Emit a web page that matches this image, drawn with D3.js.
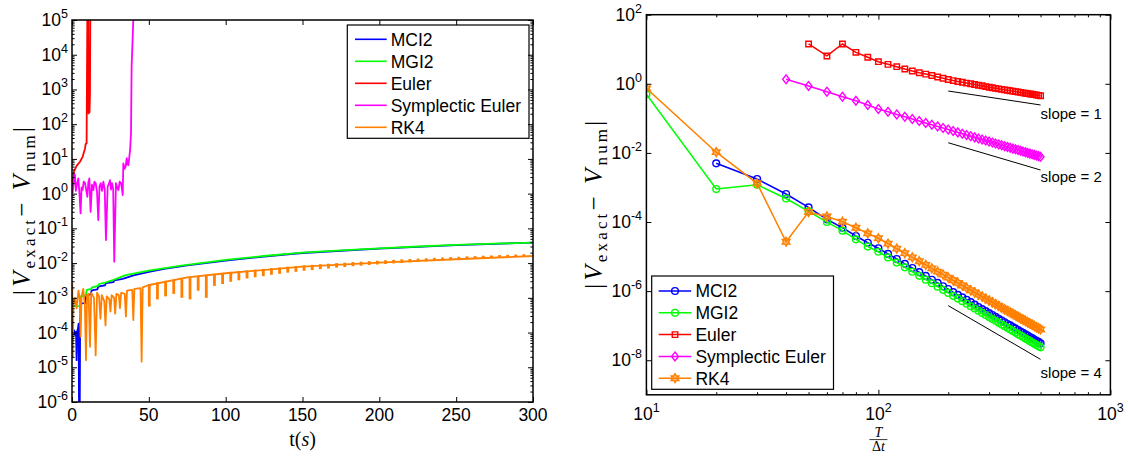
<!DOCTYPE html>
<html>
<head>
<meta charset="utf-8">
<title>Error comparison of integrators</title>
<script src="https://cdn.jsdelivr.net/npm/d3@7"></script>
<style>
  html, body { margin: 0; padding: 0; background: #fff; }
  svg { display: block; }
</style>
</head>
<body>
<svg id="fig" width="1128" height="457"></svg>
<script>
// ---------------- series ----------------
const methods = ["MCI2", "MGI2", "Euler", "Symplectic Euler", "RK4"];
const methodColors = ["#0000ff", "#00ff00", "#ff0000", "#ff00ff", "#ff8000"];
const methodMarkers = ["circle", "circle", "square", "diamond", "hexagram"];

// ---------------- left panel: error history |V_exact - V_num| over t ----------------
const timeTicks = [0, 50, 100, 150, 200, 250, 300];
const errTicksTime = [1e-6, 1e-5, 1e-4, 1e-3, 1e-2, 1e-1, 1e0, 1e1, 1e2, 1e3, 1e4, 1e5];

// [t, error]
const mci2Time = [[0.3,1.05e-4],[0.9,9.0e-5],[1.4,1.15e-4],[2.0,8.5e-5],[2.6,1.05e-4],[3.0,1.6e-5],[3.4,1.1e-4],
  [3.9,1.3e-4],[4.3,1.8e-4],[4.6,3e-7],[5.0,3e-7],[5.3,2.0e-4],[5.7,6.9e-4],[8.6,7.0e-4],[9.1,1.2e-3],
  [12.2,1.25e-3],[12.8,1.65e-3],[16.5,1.75e-3],[17.1,2.1e-3],[21.5,2.3e-3],[22.1,2.65e-3],[27,2.85e-3],
  [27.6,3.2e-3],[33,3.5e-3],[40,4.4e-3],[50,5.6e-3],[60,6.8e-3],[75,8.6e-3],[100,1.18e-2],[125,1.55e-2],
  [150,1.95e-2],[200,2.62e-2],[250,3.28e-2],[300,3.9e-2]];
const mgi2Time = [[0.3,5.8e-4],[5.2,5.9e-4],[5.7,1.1e-3],[9.0,1.15e-3],[9.6,1.7e-3],[12.5,1.8e-3],[13.0,2.0e-3],
  [17,2.2e-3],[17.5,2.5e-3],[22,2.8e-3],[27,3.3e-3],[35,4.5e-3],[50,6.05e-3],[70,8.3e-3],[100,1.23e-2],
  [125,1.6e-2],[150,2.0e-2],[175,2.33e-2],[200,2.67e-2],[225,3.0e-2],[250,3.33e-2],[275,3.62e-2],[300,3.9e-2]];
const eulerTime = [[0,1.6],[1.3,4.3],[3.0,6.3],[5.2,8.3],[6.9,11.5],[8.5,20],[8.9,27],[9.5,28],[9.6,205],
  [10.1,1e6],[10.5,1e6],[10.8,205],[11.1,780],[11.4,220],[11.7,780],[12.0,1e6]];
const symplecticTime = [[0.4,1.02],[1.2,2.6],[1.9,3.5],[2.5,1.2],[3.0,1.6],[4.1,2.75],[4.8,1.1],[5.6,0.27],
  [6.2,1.5],[6.9,1.27],[7.6,2.2],[8.5,2.0],[9.2,1.3],[10,0.81],[10.6,2.1],[11.3,2.75],[12.1,0.30],[13.0,1.8],
  [13.9,1.27],[14.6,2.2],[15.4,2.0],[16.3,1.1],[17.1,0.174],[17.9,1.6],[18.7,2.0],[19.5,1.2],[20.4,2.2],
  [21.3,1.3],[22.1,0.046],[23.2,1.58],[24.0,1.9],[24.7,2.45],[25.4,1.3],[26,2.0],[26.8,1.4],[27.5,0.011],
  [28.6,2.0],[29.4,1.5],[30.2,1.27],[31.0,2.2],[31.9,2.0],[32.5,1.4],[33,0.91],[33.4,7.4],[34.2,5.2],[34.9,6.0],
  [35.6,10.5],[36.2,7.0],[36.7,6.6],[37.8,18],[38.4,55],[38.8,4570],[39.9,1e5],[40.3,1e7]];
const rk4Time = [[0.2,2.6e-3],[0.5,2.0e-5],[0.9,6.0e-4],[2.0,1.0e-3],[3.0,5.0e-4],[4.2,1.6e-3],[5.0,1.0e-3],
  [5.6,7.6e-5],[6.2,1.1e-3],[7.3,1.8e-3],[8.4,6.0e-4],[9.1,1.6e-5],[9.8,1.2e-3],[10.8,1.3e-3],[11.7,3.9e-5],
  [12.5,1.4e-3],[14.3,1.0e-3],[15.4,2.2e-5],[16.3,1.4e-3],[17.6,1.1e-3],[18.5,2.5e-4],[19.4,1.2e-3],
  [21.0,8e-4],[21.8,1.6e-4],[22.6,1.1e-3],[24.3,9e-4],[25.0,4e-4],[25.8,1.2e-3],[27.4,1.0e-3],[28.1,3.5e-4],
  [28.9,1.3e-3],[30.5,1.2e-3],[31.2,5e-4],[32.0,1.4e-3],[34.3,1.3e-3],[35.1,2.9e-4],[35.8,1.6e-3],
  [39.2,1.7e-3],[39.9,2.3e-4],[40.6,1.8e-3],[44.6,1.9e-3],[45.3,1.45e-5],[46.0,2.0e-3],[49.6,2.3e-3],
  [75,3.9e-3],[100,5.1e-3],[150,7.9e-3],[200,1.03e-2],[250,1.29e-2],[300,1.6e-2]];
// short oscillation bursts of RK4: [t, lowest error, highest error]
const rk4Bursts = [[50.3,5.6e-4,2.5e-3],[55.6,9e-4,2.8e-3],[60.9,1.1e-3,3.1e-3],[66.2,1.3e-3,3.4e-3],
  [71.5,1.0e-3,3.7e-3],[76.8,9e-4,4.0e-3],[82.1,1.6e-3,4.3e-3],[87.4,1.0e-3,4.6e-3],[92.7,2.2e-3,4.9e-3],
  [98.0,2.5e-3,5.2e-3],[103.3,2.9e-3,5.6e-3],[108.6,3.2e-3,5.9e-3],[113.9,3.6e-3,6.2e-3],[119.2,3.9e-3,6.5e-3],
  [124.5,4.2e-3,6.8e-3],[129.8,4.6e-3,7.2e-3],[135.1,4.9e-3,7.5e-3],[140.4,5.3e-3,7.9e-3],[145.7,5.6e-3,8.2e-3],
  [151.0,6.0e-3,8.6e-3],[156.3,6.3e-3,8.9e-3],[161.6,6.7e-3,9.3e-3],[166.9,7.0e-3,9.6e-3],[172.2,7.4e-3,1.0e-2],
  [177.5,7.7e-3,1.03e-2],[182.8,8.1e-3,1.07e-2],[188.1,8.4e-3,1.1e-2],[193.4,8.8e-3,1.14e-2],[198.7,9.1e-3,1.17e-2],
  [204.0,9.4e-3,1.21e-2],[209.3,9.8e-3,1.24e-2],[214.6,1.01e-2,1.28e-2],[219.9,1.05e-2,1.31e-2],[225.2,1.08e-2,1.35e-2],
  [230.5,1.12e-2,1.38e-2],[235.8,1.15e-2,1.42e-2],[241.1,1.19e-2,1.45e-2],[246.4,1.22e-2,1.49e-2],[251.7,1.26e-2,1.52e-2],
  [257.0,1.29e-2,1.56e-2],[262.3,1.33e-2,1.59e-2],[267.6,1.36e-2,1.63e-2],[272.9,1.40e-2,1.66e-2],[278.2,1.43e-2,1.70e-2],
  [283.5,1.47e-2,1.73e-2],[288.8,1.50e-2,1.77e-2],[294.1,1.54e-2,1.80e-2]];

// ---------------- right panel: convergence vs T/Δt ----------------
const ratioTicks = [10, 100, 1000];
const errTicksConv = [1e2, 1e0, 1e-2, 1e-4, 1e-6, 1e-8];
const stepRatio = [10,20,30,40,50,60,70,80,90,100,110,120,130,140,150,160,170,180,190,200,
  210,220,230,240,250,260,270,280,290,300,310,320,330,340,350,360,370,380,390,400,
  410,420,430,440,450,460,470,480,490,500];
const mci2Conv = [null,5.0e-3,1.76e-3,6.46e-4,2.66e-4,1.20e-4,6.84e-5,3.94e-5,2.51e-5,1.74e-5,
  1.20e-5,8.51e-6,6.17e-6,4.68e-6,3.55e-6,2.75e-6,2.14e-6,1.74e-6,1.38e-6,1.15e-6,
  9.33e-7,7.76e-7,6.61e-7,5.62e-7,4.79e-7,4.07e-7,3.47e-7,3.02e-7,2.63e-7,2.32e-7,
  2.04e-7,1.80e-7,1.58e-7,1.41e-7,1.26e-7,1.12e-7,1.02e-7,9.12e-8,8.32e-8,7.41e-8,
  6.76e-8,6.17e-8,5.62e-8,5.13e-8,4.68e-8,4.37e-8,3.98e-8,3.63e-8,3.39e-8,3.09e-8];
const mgi2Conv = [0.50,9.0e-4,1.20e-3,4.79e-4,2.04e-4,1.0e-4,5.62e-5,3.16e-5,1.95e-5,1.38e-5,
  9.46e-6,6.70e-6,4.89e-6,3.64e-6,2.77e-6,2.15e-6,1.69e-6,1.35e-6,1.09e-6,8.87e-7,
  7.31e-7,6.08e-7,5.11e-7,4.31e-7,3.66e-7,3.14e-7,2.70e-7,2.34e-7,2.04e-7,1.78e-7,
  1.56e-7,1.38e-7,1.22e-7,1.08e-7,9.66e-8,8.65e-8,7.76e-8,6.98e-8,6.30e-8,5.70e-8,
  5.16e-8,4.70e-8,4.28e-8,3.91e-8,3.57e-8,3.27e-8,3.01e-8,2.77e-8,2.55e-8,2.36e-8];
const eulerConv = [null,null,null,null,14.2,6.4,14.2,8.15,5.85,4.37,
  3.66,3.13,2.68,2.35,2.09,1.91,1.74,1.58,1.45,1.33,
  1.24,1.17,1.11,1.05,1.00,0.955,0.912,0.875,0.832,0.794,
  0.766,0.740,0.716,0.692,0.670,0.650,0.631,0.612,0.596,0.579,
  0.564,0.548,0.535,0.521,0.508,0.497,0.485,0.474,0.463,0.453];
const symplecticConv = [null,null,null,1.35,0.863,0.592,0.424,0.324,0.243,0.187,
  0.155,0.130,0.111,9.6e-2,8.38e-2,7.38e-2,6.55e-2,5.84e-2,5.25e-2,4.74e-2,
  4.31e-2,3.93e-2,3.60e-2,3.31e-2,3.05e-2,2.82e-2,2.62e-2,2.44e-2,2.28e-2,2.13e-2,
  2.00e-2,1.87e-2,1.76e-2,1.66e-2,1.57e-2,1.49e-2,1.41e-2,1.33e-2,1.27e-2,1.21e-2,
  1.15e-2,1.10e-2,1.05e-2,9.98e-3,9.55e-3,9.14e-3,8.77e-3,8.41e-3,8.07e-3,7.76e-3];
const rk4Conv = [0.74,1.05e-2,1.32e-3,2.69e-5,1.95e-4,1.45e-4,1.02e-4,6.84e-5,4.68e-5,3.39e-5,
  2.37e-5,1.70e-5,1.26e-5,9.51e-6,7.33e-6,5.74e-6,4.57e-6,3.68e-6,3.00e-6,2.47e-6,
  2.06e-6,1.73e-6,1.46e-6,1.24e-6,1.06e-6,9.18e-7,7.96e-7,6.93e-7,6.07e-7,5.35e-7,
  4.72e-7,4.19e-7,3.73e-7,3.33e-7,2.99e-7,2.69e-7,2.42e-7,2.19e-7,1.98e-7,1.80e-7,
  1.64e-7,1.50e-7,1.37e-7,1.26e-7,1.16e-7,1.06e-7,9.79e-8,9.06e-8,8.38e-8,7.76e-8];

// reference slopes: two end points [ratio, error] and a label anchor
const slopeGuides = [
  {label: "slope = 1", from: [200, 0.619], to: [500, 0.244], at: [500, 9.5e-2]},
  {label: "slope = 2", from: [200, 1.97e-2], to: [500, 3.2e-3], at: [500, 1.48e-3]},
  {label: "slope = 4", from: [200, 3.8e-7], to: [500, 1.06e-8], at: [500, 3.0e-9]}
];

// ---------------- drawing ----------------
const SANS = "'Liberation Sans', Arial, Helvetica, sans-serif";
const SERIF = "'Liberation Serif', 'Times New Roman', serif";
const svg = d3.select("#fig");
const defs = svg.append("defs");

const boxL = {x0: 72, x1: 533, y0: 20, y1: 402};
const boxR = {x0: 646.4, x1: 1110.4, y0: 14.7, y1: 394.8};

const xL = d3.scaleLinear().domain([0, 300]).range([boxL.x0, boxL.x1]);
const yL = d3.scaleLog().domain([1e-6, 1e5]).range([boxL.y1, boxL.y0]);
const xR = d3.scaleLog().domain([10, 1000]).range([boxR.x0, boxR.x1]);
const yR = d3.scaleLog().domain([1e-9, 1e2]).range([boxR.y1, boxR.y0]);

function clip(id, b) {
  defs.append("clipPath").attr("id", id).append("rect")
    .attr("x", b.x0).attr("y", b.y0).attr("width", b.x1 - b.x0).attr("height", b.y1 - b.y0);
}
clip("clipL", boxL);
clip("clipR", boxR);

function minorLogTicks(domain) {
  const out = [];
  const lo = Math.round(Math.log10(domain[0])), hi = Math.round(Math.log10(domain[1]));
  for (let e = lo; e < hi; e++) for (let m = 2; m <= 9; m++) out.push(m * Math.pow(10, e));
  return out;
}

// inward ticks on all four sides, MATLAB style
function drawTicks(b, x, y, xMajor, xMinor, yMajor, yMinor, majorLen, minorLen) {
  const g = svg.append("g").attr("class", "ticks");
  const put = (axis, tx, ty) => {
    const a = g.append("g").attr("transform", `translate(${tx},${ty})`).call(axis);
    a.select(".domain").remove();
    a.selectAll("line").attr("stroke", "#000").attr("stroke-width", 1);
  };
  [[xMajor, majorLen], [xMinor, minorLen]].forEach(([vals, len]) => {
    if (!vals.length) return;
    put(d3.axisBottom(x).tickValues(vals).tickSizeInner(-len).tickSizeOuter(0).tickFormat(""), 0, b.y1);
    put(d3.axisTop(x).tickValues(vals).tickSizeInner(-len).tickSizeOuter(0).tickFormat(""), 0, b.y0);
  });
  [[yMajor, majorLen], [yMinor, minorLen]].forEach(([vals, len]) => {
    if (!vals.length) return;
    put(d3.axisLeft(y).tickValues(vals).tickSizeInner(-len).tickSizeOuter(0).tickFormat(""), b.x0, 0);
    put(d3.axisRight(y).tickValues(vals).tickSizeInner(-len).tickSizeOuter(0).tickFormat(""), b.x1, 0);
  });
}

function frame(b) {
  svg.append("rect").attr("x", b.x0).attr("y", b.y0)
    .attr("width", b.x1 - b.x0).attr("height", b.y1 - b.y0)
    .attr("fill", "none").attr("stroke", "#000").attr("stroke-width", 1.5);
}

// "10" with a raised exponent
function powText(parent, v, x, y, anchor) {
  const e = Math.round(Math.log10(v));
  const t = parent.append("text").attr("x", x).attr("y", y)
    .attr("text-anchor", anchor).attr("font-family", SANS).attr("font-size", 17.5).attr("fill", "#000");
  t.append("tspan").text("10");
  t.append("tspan").attr("dy", -8).attr("font-size", 12.5).text(e < 0 ? "-" + (-e) : String(e));
  return t;
}

// ---- left panel ----
const gL = svg.append("g");
const lineL = d3.line().x(d => xL(d[0])).y(d => yL(d[1]));
const plotL = gL.append("g").attr("clip-path", "url(#clipL)");
const timeSeries = [mci2Time, mgi2Time, eulerTime, symplecticTime, rk4Time];
timeSeries.forEach((s, i) => {
  plotL.append("path").attr("d", lineL(s)).attr("fill", "none")
    .attr("stroke", methodColors[i]).attr("stroke-width", 1.8).attr("stroke-linejoin", "round");
});
plotL.selectAll("line.burst").data(rk4Bursts).join("line").attr("class", "burst")
  .attr("x1", d => xL(d[0])).attr("x2", d => xL(d[0]))
  .attr("y1", d => yL(d[1])).attr("y2", d => yL(d[2]))
  .attr("stroke", methodColors[4]).attr("stroke-width", 2.8);

drawTicks(boxL, xL, yL, timeTicks, [], errTicksTime, minorLogTicks([1e-6, 1e5]), 5, 2.6);
frame(boxL);

timeTicks.forEach(v => {
  gL.append("text").attr("x", xL(v)).attr("y", 421).attr("text-anchor", "middle")
    .attr("font-family", SANS).attr("font-size", 17.5).text(v);
});
errTicksTime.forEach(v => powText(gL, v, 68, yL(v) + 6, "end"));

// axis titles
gL.append("text").attr("x", xL(150)).attr("y", 446).attr("text-anchor", "middle")
  .attr("font-family", SERIF).attr("font-size", 20)
  .call(t => { t.append("tspan").text("t("); t.append("tspan").attr("font-style", "italic").text("s"); t.append("tspan").text(")"); });

function errLabel(x, y) {
  const t = svg.append("text").attr("transform", `translate(${x},${y}) rotate(-90)`)
    .attr("text-anchor", "middle").attr("font-family", SERIF).attr("font-size", 25)
    .attr("textLength", 168).attr("lengthAdjust", "spacing");
  t.append("tspan").text("|");
  t.append("tspan").attr("font-style", "italic").text("V");
  t.append("tspan").attr("font-size", 17).attr("dy", 5).text("exact");
  t.append("tspan").attr("dy", -5).text("\u2212 ");
  t.append("tspan").attr("font-style", "italic").text("V");
  t.append("tspan").attr("font-size", 17).attr("dy", 5).text("num");
  t.append("tspan").attr("dy", -5).text("|");
}
errLabel(30, (boxL.y0 + boxL.y1) / 2);

// legend (lines only)
const legL = gL.append("g");
legL.append("rect").attr("x", 347.3).attr("y", 25).attr("width", 181.7).attr("height", 113.3)
  .attr("fill", "#fff").attr("stroke", "#000").attr("stroke-width", 1.2);
methods.forEach((m, i) => {
  const yy = 39.3 + i * 22;
  legL.append("line").attr("x1", 355).attr("x2", 386.7).attr("y1", yy).attr("y2", yy)
    .attr("stroke", methodColors[i]).attr("stroke-width", 1.6);
  legL.append("text").attr("x", 390.7).attr("y", yy + 6.3).attr("font-family", SANS)
    .attr("font-size", 17.5).text(m);
});

// ---- right panel ----
const hexagram = {
  draw(ctx, size) {
    const R = Math.sqrt(size) * 0.62, r = R / Math.sqrt(3);
    for (let k = 0; k < 12; k++) {
      const a = -Math.PI / 2 + k * Math.PI / 6, rr = k % 2 ? r : R;
      const px = rr * Math.cos(a), py = rr * Math.sin(a);
      k ? ctx.lineTo(px, py) : ctx.moveTo(px, py);
    }
    ctx.closePath();
  }
};
const diamondTall = {
  draw(ctx, size) {
    const h = Math.sqrt(size) * 0.62, w = h * 0.78;
    ctx.moveTo(0, -h); ctx.lineTo(w, 0); ctx.lineTo(0, h); ctx.lineTo(-w, 0); ctx.closePath();
  }
};
const markerPath = {
  circle: d3.symbol(d3.symbolCircle, 36)(),
  square: d3.symbol(d3.symbolSquare, 30)(),
  diamond: d3.symbol(diamondTall, 50)(),
  hexagram: d3.symbol(hexagram, 52)()
};
// the six-point star reads as nearly solid at this size
const markerFill = {circle: "none", square: "none", diamond: "none", hexagram: "#ff8000"};

const gR = svg.append("g");
const plotR = gR.append("g").attr("clip-path", "url(#clipR)");
const lineR = d3.line().x(d => xR(d[0])).y(d => yR(d[1]));

slopeGuides.forEach(s => {
  plotR.append("line").attr("x1", xR(s.from[0])).attr("y1", yR(s.from[1]))
    .attr("x2", xR(s.to[0])).attr("y2", yR(s.to[1])).attr("stroke", "#000").attr("stroke-width", 1);
});

const convSeries = [mci2Conv, mgi2Conv, eulerConv, symplecticConv, rk4Conv];
convSeries.forEach((vals, i) => {
  const pts = stepRatio.map((n, k) => [n, vals[k]]).filter(d => d[1] != null);
  const g = plotR.append("g");
  g.append("path").attr("d", lineR(pts)).attr("fill", "none")
    .attr("stroke", methodColors[i]).attr("stroke-width", 1.5);
  g.selectAll("path.mk").data(pts).join("path").attr("class", "mk")
    .attr("d", markerPath[methodMarkers[i]])
    .attr("transform", d => `translate(${xR(d[0])},${yR(d[1])})`)
    .attr("fill", markerFill[methodMarkers[i]]).attr("fill-opacity", 0.55)
    .attr("stroke", methodColors[i]).attr("stroke-width", 1.4);
});

slopeGuides.forEach(s => {
  gR.append("text").attr("x", xR(s.at[0])).attr("y", yR(s.at[1]))
    .attr("font-family", SANS).attr("font-size", 15).text(s.label);
});

drawTicks(boxR, xR, yR, ratioTicks, minorLogTicks([10, 1000]), errTicksConv, [], 5, 2.6);
frame(boxR);

ratioTicks.forEach(v => powText(gR, v, xR(v), 420, "middle"));
errTicksConv.forEach(v => powText(gR, v, 642, yR(v) + 6, "end"));

// x title: T / Δt
const fx = (boxR.x0 + boxR.x1) / 2;
gR.append("text").attr("x", fx).attr("y", 437).attr("text-anchor", "middle")
  .attr("font-family", SERIF).attr("font-size", 14).attr("font-style", "italic").text("T");
gR.append("line").attr("x1", fx - 9).attr("x2", fx + 9).attr("y1", 439.6).attr("y2", 439.6)
  .attr("stroke", "#000").attr("stroke-width", 0.8);
gR.append("text").attr("x", fx).attr("y", 451).attr("text-anchor", "middle")
  .attr("font-family", SERIF).attr("font-size", 14)
  .call(t => { t.append("tspan").text("\u0394"); t.append("tspan").attr("font-style", "italic").text("t"); });

errLabel(602, (boxR.y0 + boxR.y1) / 2);

// legend with markers
const legR = gR.append("g");
legR.append("rect").attr("x", 651.7).attr("y", 276).attr("width", 181.8).attr("height", 113.3)
  .attr("fill", "#fff").attr("stroke", "#000").attr("stroke-width", 1.2);
methods.forEach((m, i) => {
  const yy = 291 + i * 21.8;
  legR.append("line").attr("x1", 658.7).attr("x2", 691.2).attr("y1", yy).attr("y2", yy)
    .attr("stroke", methodColors[i]).attr("stroke-width", 1.5);
  legR.append("path").attr("d", markerPath[methodMarkers[i]])
    .attr("transform", `translate(675,${yy})`)
    .attr("fill", markerFill[methodMarkers[i]]).attr("fill-opacity", 0.55)
    .attr("stroke", methodColors[i]).attr("stroke-width", 1.4);
  legR.append("text").attr("x", 695.4).attr("y", yy + 6.3).attr("font-family", SANS)
    .attr("font-size", 17.5).text(m);
});
</script>
</body>
</html>
